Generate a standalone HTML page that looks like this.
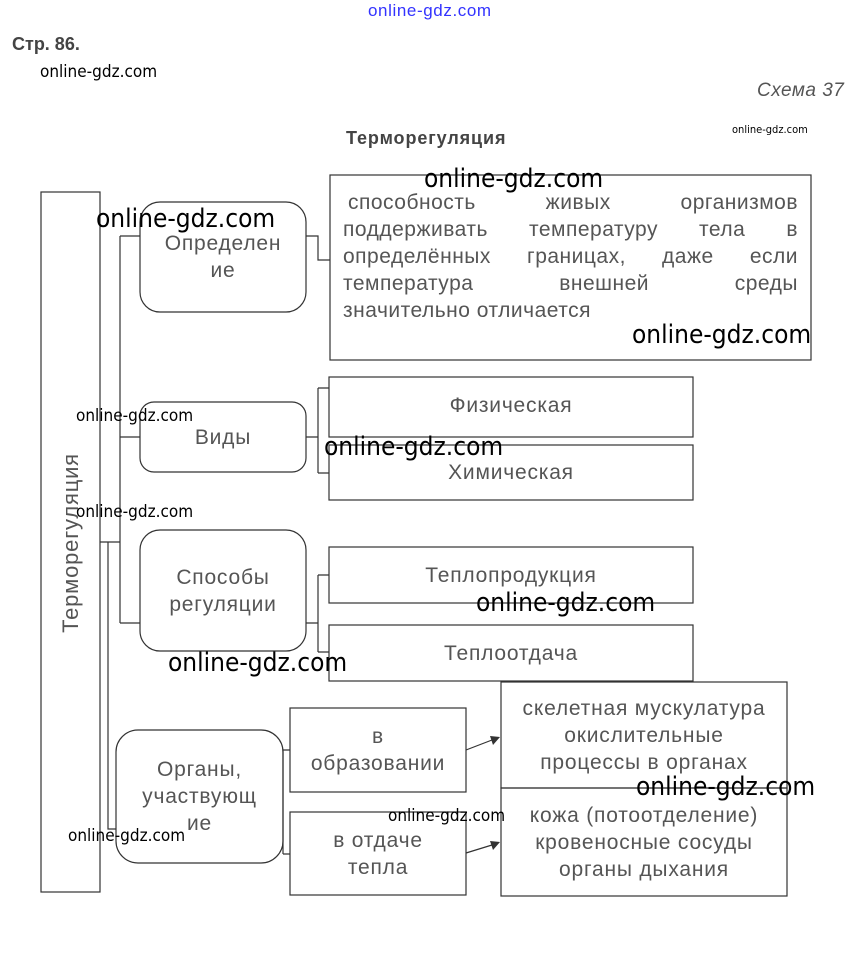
<!DOCTYPE html>
<html><head><meta charset="utf-8"><style>
body{margin:0;width:857px;height:962px;background:#fff;position:relative;overflow:hidden;font-family:"Liberation Sans",sans-serif}
.a{position:absolute}
.t{position:absolute;color:#555;font-size:21px;letter-spacing:0.8px;line-height:27px;text-align:center;display:flex;align-items:center;justify-content:center}
.w{position:absolute;color:#000;font-family:"DejaVu Sans Condensed","Liberation Sans",sans-serif;white-space:nowrap}
.big{font-size:26px}
.sm{font-size:17px}
.p{position:absolute;left:343px;width:455px;color:#555;font-size:21px;line-height:27px;letter-spacing:0.5px;text-align:justify;text-align-last:justify;white-space:nowrap}
</style></head><body>
<svg class="a" style="left:0;top:0" width="857" height="962">
<g fill="none" stroke="#333" stroke-width="1.2">
<rect x="41" y="192" width="59" height="700"/>
<rect x="140" y="202" width="166" height="110" rx="20"/>
<rect x="330" y="175" width="481" height="185"/>
<rect x="140" y="402" width="166" height="70" rx="14"/>
<rect x="329" y="377" width="364" height="60"/>
<rect x="329" y="445" width="364" height="55"/>
<rect x="140" y="530" width="166" height="121" rx="20"/>
<rect x="329" y="547" width="364" height="56"/>
<rect x="329" y="625" width="364" height="56"/>
<rect x="116" y="730" width="167" height="133" rx="22"/>
<rect x="290" y="708" width="176" height="84"/>
<rect x="290" y="812" width="176" height="83"/>
<rect x="501" y="682" width="286" height="106"/>
<rect x="501" y="788" width="286" height="108"/>
<path d="M100 542H120M120 236V623M120 236H140M120 437H140M120 623H140"/>
<path d="M108 542V829H116"/>
<path d="M306 236H318V260H330"/>
<path d="M306 437H318M318 388V473M318 388H329M318 473H329"/>
<path d="M306 623H318M318 575V652M318 575H329M318 652H329"/>
<path d="M283 750V854M286 750H290M286 854H290M283 750H286M283 854H286"/>
<path d="M466 750L492 740M466 853L492 845"/>
</g>
<path d="M500 737L490 736L493 745Z" fill="#333"/>
<path d="M500 842L490 841L493 850Z" fill="#333"/>
<text transform="translate(78,543) rotate(-90)" text-anchor="middle" font-size="22" letter-spacing="0.8" fill="#555" font-family="Liberation Sans">Терморегуляция</text>
</svg>
<div class="a" style="left:368px;top:1px;color:#33f;font-size:17px;letter-spacing:0.6px">online-gdz.com</div>
<div class="a" style="left:12px;top:34px;font-weight:bold;font-size:18px;color:#444">Стр. 86.</div>
<div class="a" style="left:757px;top:80px;font-style:italic;font-size:19px;letter-spacing:0.5px;color:#555">Схема 37</div>
<div class="a" style="left:346px;top:128px;font-weight:bold;font-size:18px;letter-spacing:0.9px;color:#444">Терморегуляция</div>
<div class="t" style="left:140px;top:202px;width:166px;height:110px">Определен<br>ие</div>
<div class="p" style="top:189px;left:348px;width:450px">способность живых организмов</div>
<div class="p" style="top:216px">поддерживать температуру тела в</div>
<div class="p" style="top:243px">определённых границах, даже если</div>
<div class="p" style="top:270px">температура внешней среды</div>
<div class="p" style="top:297px;text-align-last:left">значительно отличается</div>
<div class="t" style="left:140px;top:402px;width:166px;height:70px">Виды</div>
<div class="t" style="left:329px;top:377px;width:364px;height:56px">Физическая</div>
<div class="t" style="left:329px;top:445px;width:364px;height:55px">Химическая</div>
<div class="t" style="left:140px;top:530px;width:166px;height:121px">Способы<br>регуляции</div>
<div class="t" style="left:329px;top:547px;width:364px;height:56px">Теплопродукция</div>
<div class="t" style="left:329px;top:625px;width:364px;height:56px">Теплоотдача</div>
<div class="t" style="left:116px;top:730px;width:167px;height:133px">Органы,<br>участвующ<br>ие</div>
<div class="t" style="left:290px;top:708px;width:176px;height:84px">в<br>образовании</div>
<div class="t" style="left:290px;top:812px;width:176px;height:83px">в отдаче<br>тепла</div>
<div class="t" style="left:501px;top:695px;width:286px">скелетная мускулатура<br>окислительные<br>процессы в органах</div>
<div class="t" style="left:501px;top:802px;width:286px">кожа (потоотделение)<br>кровеносные сосуды<br>органы дыхания</div>
<div class="w sm" style="left:40px;top:62px">online-gdz.com</div>
<div class="w" style="left:732px;top:123px;font-size:11px">online-gdz.com</div>
<div class="w big" style="left:424px;top:164px">online-gdz.com</div>
<div class="w big" style="left:96px;top:204px">online-gdz.com</div>
<div class="w big" style="left:632px;top:320px">online-gdz.com</div>
<div class="w sm" style="left:76px;top:406px">online-gdz.com</div>
<div class="w big" style="left:324px;top:432px">online-gdz.com</div>
<div class="w sm" style="left:76px;top:502px">online-gdz.com</div>
<div class="w big" style="left:476px;top:588px">online-gdz.com</div>
<div class="w big" style="left:168px;top:648px">online-gdz.com</div>
<div class="w big" style="left:636px;top:772px">online-gdz.com</div>
<div class="w sm" style="left:388px;top:806px">online-gdz.com</div>
<div class="w sm" style="left:68px;top:826px">online-gdz.com</div>
</body></html>
